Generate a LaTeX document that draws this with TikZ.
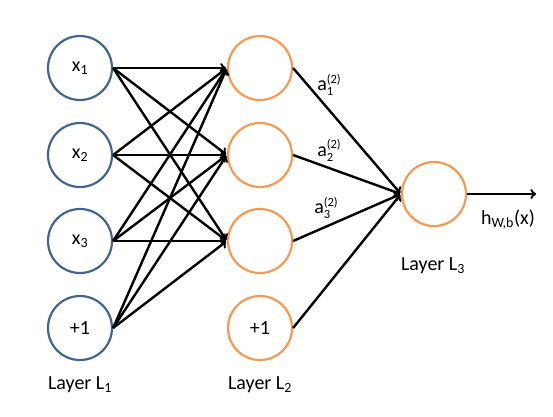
\documentclass[tikz,border=0pt]{standalone}
\usepackage{fontspec}
\setmainfont{Carlito}
\usetikzlibrary{positioning}
\definecolor{inblue}{HTML}{41658F}
\definecolor{hidorange}{HTML}{F49A52}
\newcommand{\actv}[1]{a\raisebox{-5pt}{\fontsize{12.5}{12}\selectfont\shortstack[l]{(2)\\#1}}}
\begin{document}
\begin{tikzpicture}
        [x=1pt, y=-1pt, font=\fontsize{20}{23}\selectfont,
        input/.style={circle, draw=inblue, line width=2.2pt, minimum size=64pt, inner sep=0pt},
        hidden/.style={circle, draw=hidorange, line width=2.2pt, minimum size=64pt, inner sep=0pt},
        edge/.style={->, line width=2.4pt, black, shorten >=1pt},
        label/.style={inner sep=0pt}]

        \useasboundingbox (0,0) rectangle (553,416);

        \node[input] (x1) at (80,68) {x\textsubscript{1}};
        \node[input] (x2) at (80,155) {x\textsubscript{2}};
        \node[input] (x3) at (80,241) {x\textsubscript{3}};
        \node[input] (b1) at (80,328) {+1};
        \node[hidden] (a1) at (260,68) {};
        \node[hidden] (a2) at (260,155) {};
        \node[hidden] (a3) at (260,241) {};
        \node[hidden] (b2) at (260,328) {+1};
        \node[hidden] (out) at (434,194) {};
        \coordinate (h) at (537,194);

        % Labels for the layers
        \node[label] (L1) at (80,385) {Layer L\textsubscript{1}};
        \node[label] (L2) at (260,385) {Layer L\textsubscript{2}};
        \node[label] (L3) at (433,266) {Layer L\textsubscript{3}};
        \node[label] (hx) at (508,220) {h\textsubscript{W,b}(x)};

        % edges from layer 1 to layer 2
        \draw[edge] (x1.east) -- (a1.west);
        \draw[edge] (x1.east) -- (a2.west);
        \draw[edge] (x1.east) -- (a3.west);
        \draw[edge] (x2.east) -- (a1.west);
        \draw[edge] (x2.east) -- (a2.west);
        \draw[edge] (x2.east) -- (a3.west);
        \draw[edge] (x3.east) -- (a1.west);
        \draw[edge] (x3.east) -- (a2.west);
        \draw[edge] (x3.east) -- (a3.west);
        \draw[edge] (b1.east) -- (a1.west);
        \draw[edge] (b1.east) -- (a2.west);
        \draw[edge] (b1.east) -- (a3.west);

        % edges from layer 2 to layer 3
        \node[label] (w1) at (329,85) {\actv{1}};
        \node[label] (w2) at (329,150) {\actv{2}};
        \node[label] (w3) at (326,208) {\actv{3}};
        \draw[edge] (a1.east) -- (out.west);
        \draw[edge] (a2.east) -- (out.west);
        \draw[edge] (a3.east) -- (out.west);
        \draw[edge] (b2.east) -- (out.west);

        % output
        \draw[edge] (out.east) -- (h);

    \end{tikzpicture}
\end{document}
